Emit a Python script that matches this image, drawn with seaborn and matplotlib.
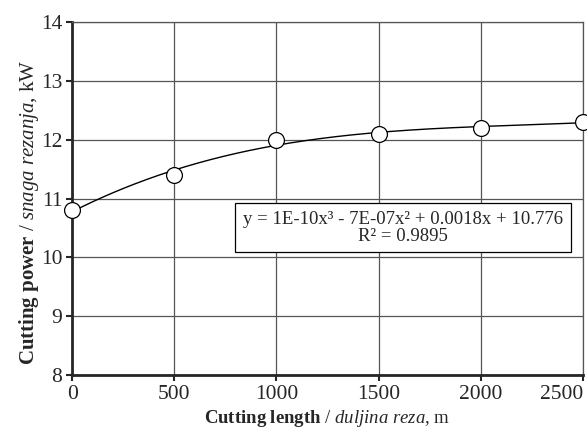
import seaborn as sns
import matplotlib.pyplot as plt
import numpy as np
import pandas as pd

length = [0, 500, 1000, 1500, 2000, 2500]
power = [10.8, 11.4, 12.0, 12.1, 12.2, 12.3]
xticks = [0, 500, 1000, 1500, 2000, 2500]
yticks = [8, 9, 10, 11, 12, 13, 14]
equation = 'y = 1E-10x\u00b3 - 7E-07x\u00b2 + 0.0018x + 10.776\nR\u00b2 = 0.9895'

df = pd.DataFrame({'length': length, 'power': power})

sns.set_style('white')
plt.rcParams['font.family'] = ['Liberation Serif', 'DejaVu Serif']
plt.rcParams['mathtext.fontset'] = 'custom'
plt.rcParams['mathtext.rm'] = 'Liberation Serif'
plt.rcParams['mathtext.it'] = 'Liberation Serif:italic'
plt.rcParams['mathtext.bf'] = 'Liberation Serif:bold'

fig, ax = plt.subplots(figsize=(5.87, 4.32), dpi=100)
fig.subplots_adjust(left=0.123, right=0.993, top=0.949, bottom=0.132)

# polynomial trend line (3rd order) through the points
coef = np.polyfit(df['length'], df['power'], 3)
xs = np.linspace(0, 2500, 200)
sns.lineplot(x=xs, y=np.polyval(coef, xs), ax=ax, color='black', lw=1.0)
sns.scatterplot(data=df, x='length', y='power', ax=ax, s=130, facecolor='white',
                edgecolor='black', linewidth=0.9, zorder=5, clip_on=False)

ax.set_xlim(0, 2500)
ax.set_ylim(8, 14)
ax.set_xticks(xticks)
ax.set_yticks(yticks)
ax.grid(True, color='#555555', lw=0.9)
ax.tick_params(labelsize=15.5, length=4, width=1.5, direction='out', left=True, bottom=True, pad=3)
ax.get_xticklabels()[-1].set_horizontalalignment('right')
for s in ['left', 'bottom']:
    ax.spines[s].set_linewidth(2)
for s in ['top', 'right']:
    ax.spines[s].set_linewidth(0.9)
    ax.spines[s].set_color('#555555')

ax.set_xlabel(r'$\mathbf{Cutting\ length}$ / $\mathit{duljina\ reza}$, m', fontsize=13.5, labelpad=3)
ax.set_ylabel(r'$\mathbf{Cutting\ power}$ / $\mathit{snaga\ rezanja}$, kW', fontsize=15)
ax.yaxis.set_label_coords(-0.062, 0.46)

ax.text(1620, 10.50, equation, fontsize=13.5, ha='center', va='center', linespacing=0.95,
        bbox=dict(facecolor='white', edgecolor='black', lw=0.9, boxstyle='square,pad=0.42'),
        zorder=6)

plt.savefig('out.png', dpi=100)
